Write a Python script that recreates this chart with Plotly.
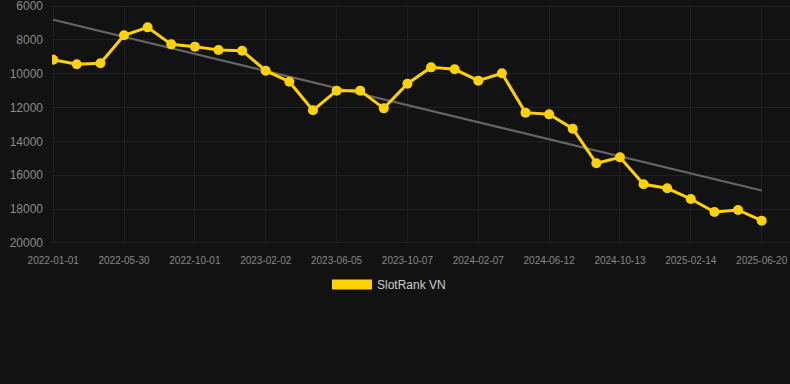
import numpy as np
import plotly.graph_objects as go

dates = [
    "2022-01-01", "2022-02-19", "2022-04-10", "2022-05-30", "2022-07-01", "2022-08-31",
    "2022-10-01", "2022-11-12", "2022-12-23", "2023-02-02", "2023-03-16", "2023-04-25",
    "2023-06-05", "2023-07-17", "2023-08-27", "2023-10-07", "2023-11-17", "2023-12-28",
    "2024-02-07", "2024-03-19", "2024-05-01", "2024-06-12", "2024-07-23", "2024-09-02",
    "2024-10-13", "2024-11-23", "2025-01-03", "2025-02-14", "2025-03-28", "2025-05-09",
    "2025-06-20",
]
rank = [
    9170, 9445, 9385, 7730, 7260, 8265, 8400, 8600, 8640, 9822, 10470,
    12163, 11000, 11000, 12045, 10590, 9623, 9740, 10410, 9976, 12300,
    12400, 13250, 15290, 14940, 16530, 16770, 17400, 18170, 18050, 18680,
]
tick_dates = dates[::3]
y_ticks = [6000, 8000, 10000, 12000, 14000, 16000, 18000, 20000]
y_tick_text = [str(v) for v in y_ticks]

idx = np.arange(len(rank))
slope, intercept = np.polyfit(idx, rank, 1)
trend = [intercept + slope * i for i in idx]

YELLOW = "#FFD200"

fig = go.Figure()
fig.add_trace(go.Scatter(
    x=dates, y=trend, mode="lines",
    line=dict(color="#666666", width=2),
    showlegend=False, hoverinfo="skip",
))
fig.add_trace(go.Scatter(
    x=dates, y=rank, mode="lines+markers",
    line=dict(color=YELLOW, width=3),
    marker=dict(color=YELLOW, size=10),
    showlegend=False, name="SlotRank VN",
))
fig.add_trace(go.Scatter(
    x=[None], y=[None], mode="lines",
    line=dict(color=YELLOW, width=10),
    name="SlotRank VN", showlegend=True,
))

fig.update_layout(
    width=790, height=384,
    paper_bgcolor="#121212", plot_bgcolor="#121212",
    margin=dict(l=52, r=0, t=5, b=140),
    font=dict(family="Liberation Sans, Arial, sans-serif", color="#888888"),
    legend=dict(
        orientation="h", x=0.4566, xanchor="center", y=-0.1088, yanchor="top",
        font=dict(size=12, color="#cccccc"), itemwidth=40,
    ),
    xaxis=dict(
        type="category", categoryorder="array", categoryarray=dates,
        range=[-0.05, 31.2],
        tickvals=tick_dates, ticktext=tick_dates,
        tickfont=dict(size=10, color="#888888"),
        showgrid=True, gridcolor="#202020", gridwidth=1,
        zeroline=False, showline=False, ticks="", ticklen=0,
        ticklabelstandoff=9, ticklabeloverflow="allow",
    ),
    yaxis=dict(
        range=[20060, 5940], tickvals=y_ticks, ticktext=y_tick_text,
        tickfont=dict(size=12, color="#8a8a8a"),
        showgrid=True, gridcolor="#202020", gridwidth=1,
        zeroline=False, showline=False, ticks="",
        ticklabelstandoff=8, ticklabeloverflow="allow",
    ),
)

fig.write_html(
    "out.html",
    config={"displayModeBar": False},
    post_script="document.body.style.margin='0';document.body.style.background='#121212';",
)
